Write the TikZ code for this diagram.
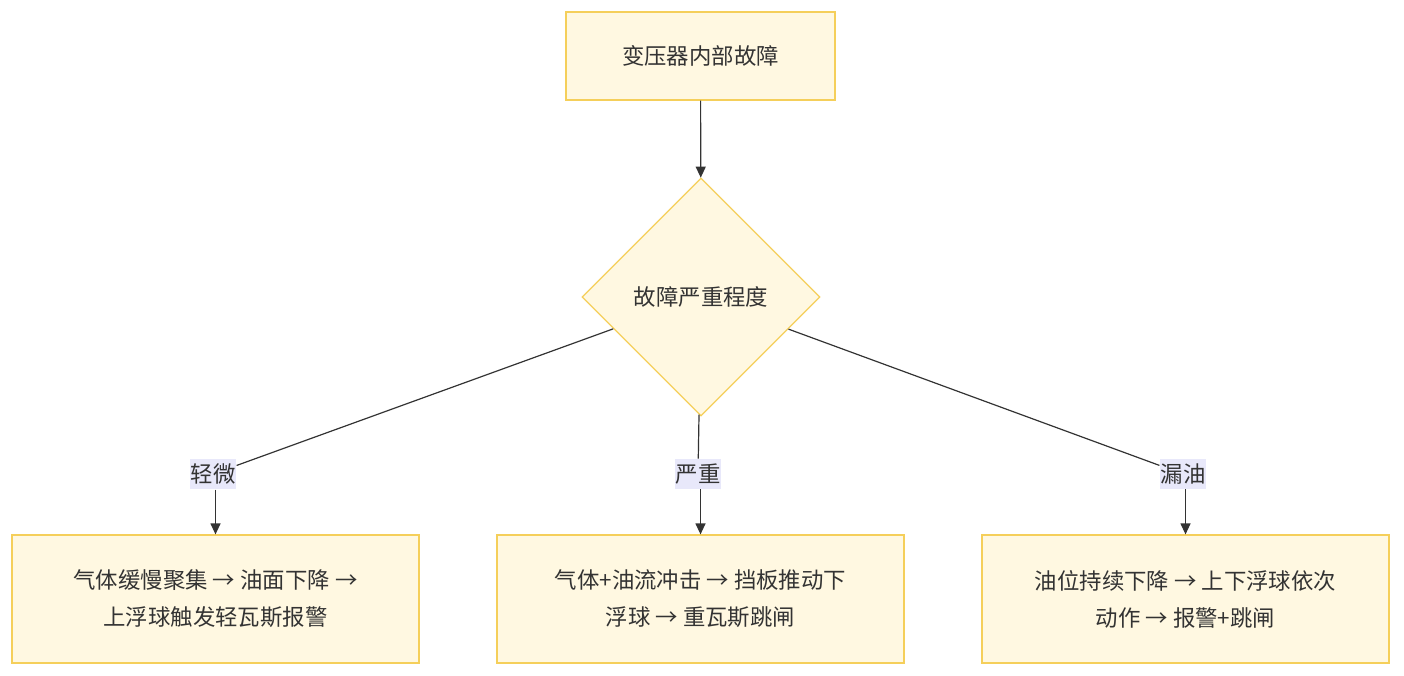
\documentclass[tikz,border=0pt]{standalone}
\usepackage{fontspec}
\setmainfont{Noto Sans CJK SC}
\usetikzlibrary{arrows.meta,positioning,shapes.geometric}
\definecolor{boxfill}{HTML}{FFF8E1}
\definecolor{boxline}{HTML}{F5CF5A}
\definecolor{lblfill}{HTML}{E8E8FA}
\definecolor{edge}{HTML}{333333}
\tikzset{
  >={Triangle[length=11pt,width=10pt]},
  stepbox/.style={rectangle, draw=boxline, fill=boxfill, line width=1.2pt, inner sep=0pt,
    align=center, font=\fontsize{22.4}{37}\selectfont, text=edge},
  judge/.style={diamond, draw=boxline, fill=boxfill, line width=1.2pt, inner sep=0pt,
    minimum width=238pt, minimum height=238pt, font=\fontsize{22.4}{26}\selectfont, text=edge},
  lbl/.style={fill=lblfill, inner xsep=1pt, inner ysep=5pt, font=\fontsize{22.4}{26}\selectfont, text=edge},
  tr/.style={draw=edge, line width=1.2pt}
}
\begin{document}
\begin{tikzpicture}[x=1pt, y=-1pt]
    \useasboundingbox (0,0) rectangle (1404,676);
    % Nodes
    \node[stepbox, minimum width=269pt, minimum height=88pt] (fault) at (700.5,56) {变压器内部故障};
    \node[judge] (level) at (701,297) {故障严重程度};
    \node[lbl] (l1) at (213,474) {轻微};
    \node[lbl] (l2) at (698,474) {严重};
    \node[lbl] (l3) at (1183,474) {漏油};
    \node[stepbox, minimum width=407pt, minimum height=128pt] (light) at (215.5,599)
        {气体缓慢聚集 → 油面下降 →\\上浮球触发轻瓦斯报警};
    \node[stepbox, minimum width=407pt, minimum height=128pt] (heavy) at (700.5,599)
        {气体+油流冲击 → 挡板推动下\\浮球 → 重瓦斯跳闸};
    \node[stepbox, minimum width=407pt, minimum height=128pt] (leak) at (1185.5,599)
        {油位持续下降 → 上下浮球依次\\动作 → 报警+跳闸};
    % Connectors
    \draw[tr, ->] (fault) -- (level);
    \draw[tr] (level) -- (l1);
    \draw[tr] (level) -- (l2);
    \draw[tr] (level) -- (l3);
    \draw[tr, ->] (l1.south -| light.north) -- (light);
    \draw[tr, ->] (l2.south -| heavy.north) -- (heavy);
    \draw[tr, ->] (l3.south -| leak.north) -- (leak);
\end{tikzpicture}
\end{document}
